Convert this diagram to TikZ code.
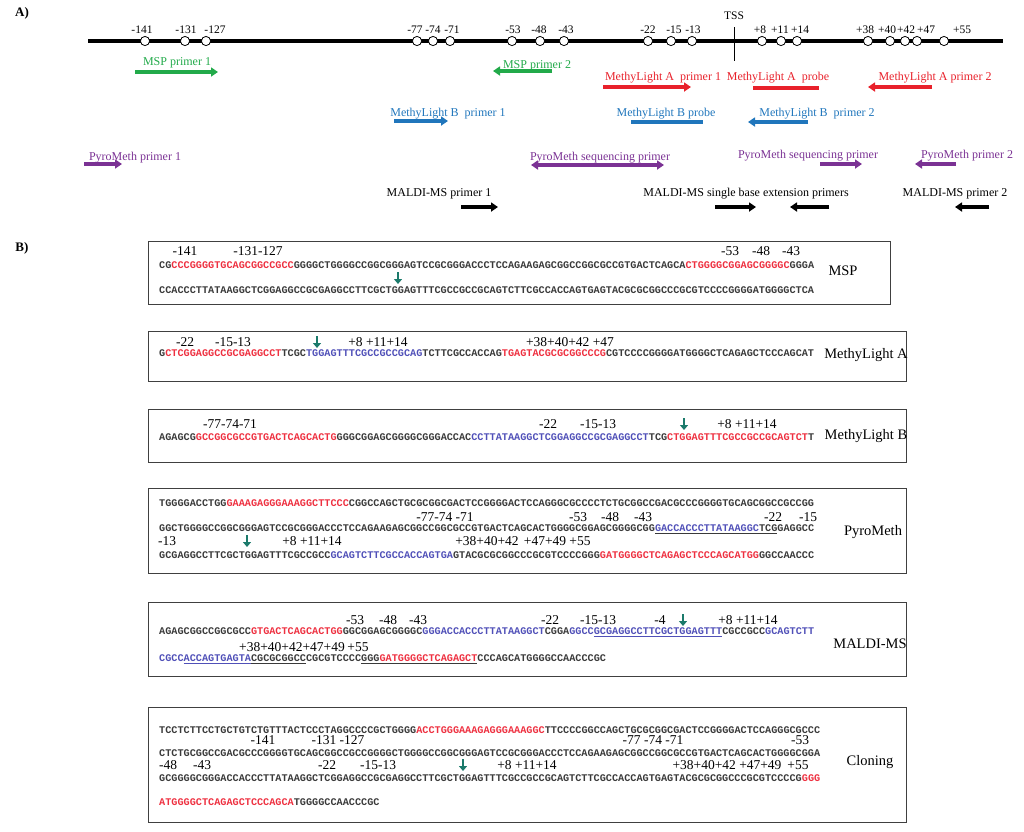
\documentclass[tikz,border=0pt]{standalone}
\usepackage{fontspec}
\setmainfont{Liberation Serif}
\newfontfamily\seqf{Liberation Mono}
\usetikzlibrary{arrows.meta}
\definecolor{cgreen}{HTML}{22AA4A}
\definecolor{cred}{HTML}{E8212B}
\definecolor{cblue}{HTML}{2076BC}
\definecolor{cpurp}{HTML}{7B3294}
\definecolor{sred}{HTML}{EE3040}
\definecolor{sblue}{HTML}{5050B8}
\definecolor{sgray}{HTML}{3A3A3A}
\definecolor{cteal}{HTML}{1B7A6B}
\newcommand\sR[1]{\textcolor{sred}{#1}}
\newcommand\sB[1]{\textcolor{sblue}{#1}}
\newcommand\sU[1]{\underline{#1}}
\begin{document}
\begin{tikzpicture}[x=1pt,y=-1pt,
  seq/.style={anchor=base west,inner sep=0,font=\seqf\bfseries\fontsize{10.2}{12}\selectfont,text=sgray},
  num/.style={anchor=base,inner sep=0,font=\fontsize{13.5}{15}\selectfont},
  lab/.style={anchor=base,inner sep=0,font=\fontsize{14.5}{17}\selectfont},
  hdr/.style={anchor=base,inner sep=0,font=\bfseries\fontsize{13}{15}\selectfont},
  tick/.style={anchor=base,inner sep=0,font=\fontsize{11.5}{13}\selectfont},
  ptxt/.style={anchor=base,inner sep=0,font=\fontsize{12}{14}\selectfont},
  seqbox/.style={draw=black!75,line width=0.9pt},
  parr/.style={line width=3.5pt,-{Triangle[length=7pt,width=9pt]}},
  darr/.style={line width=3.5pt,{Triangle[length=7pt,width=9pt]}-{Triangle[length=7pt,width=9pt]}},
  probe/.style={line width=3.5pt},
  dn/.style={cteal,line width=2.3pt,-{Triangle[length=5pt,width=8pt]}},
  site/.style={draw=black,fill=white,line width=0.8pt}]
\useasboundingbox (0,0) rectangle (1024,831);
% ---------------- Panel A ----------------
\node[hdr] (hA) at (22,16) {A)};
\coordinate (gL) at (88,41); \coordinate (gR) at (1003,41);
\draw[line width=3.2pt] (gL) -- (gR);
\coordinate (tssT) at (734,27); \coordinate (tssB) at (734,61);
\draw[line width=0.8pt] (tssT) -- (tssB);
\node[tick] (tss) at (734,19) {TSS};
\foreach \x in {145,185,206,417,433,450,512,540,564,648,671,692,762,781,797,868,890,905,917,944}
  \draw[site] (\x,41) circle (4.6);
\foreach \x/\t in {142/-141,186/-131,215/-127,415/-77,433/-74,452/-71,513/-53,539/-48,566/-43,648/-22,674/-15,693/-13,760/+8,780/+11,800/+14,865/+38,887/+40,906/+42,926/+47,962/+55}
  \node[tick] at (\x,33) {\t};
% MSP
\node[ptxt,text=cgreen] (msp1) at (177,65) {MSP primer 1};
\coordinate (msp1a) at (135,72); \coordinate (msp1b) at (218,72);
\draw[parr,cgreen] (msp1a) -- (msp1b);
\node[ptxt,text=cgreen] (msp2) at (537,68) {MSP primer 2};
\coordinate (msp2a) at (552,71); \coordinate (msp2b) at (493,71);
\draw[parr,cgreen] (msp2a) -- (msp2b);
% MethyLight A
\node[ptxt,text=cred] (mla1) at (663,80) {MethyLight A\ \ primer 1};
\coordinate (mla1a) at (603,87); \coordinate (mla1b) at (691,87);
\draw[parr,cred] (mla1a) -- (mla1b);
\node[ptxt,text=cred] (mlap) at (778,80) {MethyLight A\ \ probe};
\coordinate (mlapa) at (753,88); \coordinate (mlapb) at (819,88);
\draw[probe,cred] (mlapa) -- (mlapb);
\node[ptxt,text=cred] (mla2) at (935,80) {MethyLight A primer 2};
\coordinate (mla2a) at (932,87); \coordinate (mla2b) at (868,87);
\draw[parr,cred] (mla2a) -- (mla2b);
% MethyLight B
\node[ptxt,text=cblue] (mlb1) at (448,116) {MethyLight B\ \ primer 1};
\coordinate (mlb1a) at (394,121); \coordinate (mlb1b) at (448,121);
\draw[parr,cblue] (mlb1a) -- (mlb1b);
\node[ptxt,text=cblue] (mlbp) at (666,116) {MethyLight B probe};
\coordinate (mlbpa) at (631,122); \coordinate (mlbpb) at (703,122);
\draw[probe,cblue] (mlbpa) -- (mlbpb);
\node[ptxt,text=cblue] (mlb2) at (817,116) {MethyLight B\ \ primer 2};
\coordinate (mlb2a) at (808,122); \coordinate (mlb2b) at (748,122);
\draw[parr,cblue] (mlb2a) -- (mlb2b);
% PyroMeth
\node[ptxt,text=cpurp] (pm1) at (135,160) {PyroMeth primer 1};
\coordinate (pm1a) at (84,164); \coordinate (pm1b) at (122,164);
\draw[parr,cpurp] (pm1a) -- (pm1b);
\node[ptxt,text=cpurp] (pms1) at (600,160) {PyroMeth sequencing primer};
\coordinate (pms1a) at (531,165); \coordinate (pms1b) at (664,165);
\draw[darr,cpurp] (pms1a) -- (pms1b);
\node[ptxt,text=cpurp] (pms2) at (808,158) {PyroMeth sequencing primer};
\coordinate (pms2a) at (820,164); \coordinate (pms2b) at (862,164);
\draw[parr,cpurp] (pms2a) -- (pms2b);
\node[ptxt,text=cpurp] (pm2) at (967,158) {PyroMeth primer 2};
\coordinate (pm2a) at (956,164); \coordinate (pm2b) at (915,164);
\draw[parr,cpurp] (pm2a) -- (pm2b);
% MALDI
\node[ptxt] (md1) at (439,196) {MALDI-MS primer 1};
\coordinate (md1a) at (461,207); \coordinate (md1b) at (498,207);
\draw[parr] (md1a) -- (md1b);
\node[ptxt] (mds) at (746,196) {MALDI-MS single base extension primers};
\coordinate (mdsa) at (715,207); \coordinate (mdsb) at (756,207);
\draw[parr] (mdsa) -- (mdsb);
\coordinate (mdsc) at (829,207); \coordinate (mdsd) at (790,207);
\draw[parr] (mdsc) -- (mdsd);
\node[ptxt] (md2) at (955,196) {MALDI-MS primer 2};
\coordinate (md2a) at (989,207); \coordinate (md2b) at (955,207);
\draw[parr] (md2a) -- (md2b);
% ---------------- Panel B ----------------
\node[hdr] (hB) at (22,251) {B)};
% MSP box
\draw[seqbox] (148,241) rectangle (890,304);
\foreach \x/\t in {185/-141,258/-131-127,730/-53,761/-48,791/-43} \node[num] at (\x,255.5) {\t};
\node[seq] (msps1) at (159,268.5) {CG\sR{CCCGGGGTGCAGCGGCCGCC}GGGGCTGGGGCCGGCGGGAGTCCGCGGGACCCTCCAGAAGAGCGGCCGGCGCCGTGACTCAGCA\sR{CTGGGGCGGAGCGGGGC}GGGA};
\node[seq] (msps2) at (159,293.5) {CCACCCTTATAAGGCTCGGAGGCCGCGAGGCCTTCGCTGGAGTTTCGCCGCCGCAGTCTTCGCCACCAGTGAGTACGCGCGGCCCGCGTCCCCGGGGATGGGGCTCA};
\coordinate (mspt) at (398,272); \coordinate (mspb) at (398,284);
\draw[dn] (mspt) -- (mspb);
\node[lab] (mspl) at (843,275) {MSP};
% MethyLight A box
\draw[seqbox] (148,331) rectangle (906,381);
\foreach \x/\t in {185/-22,233/-15-13,378/+8 +11+14,570/+38+40+42 +47} \node[num] at (\x,346.5) {\t};
\node[seq] (mlas) at (159,356.5) {G\sR{CTCGGAGGCCGCGAGGCCT}TCGC\sB{TGGAGTTTCGCCGCCGCAG}TCTTCGCCACCAG\sR{TGAGTACGCGCGGCCCG}CGTCCCCGGGGATGGGGCTCAGAGCTCCCAGCAT};
\coordinate (mlat) at (317,336); \coordinate (mlab) at (317,348);
\draw[dn] (mlat) -- (mlab);
\node[lab] (mlal) at (866,358) {MethyLight A};
% MethyLight B box
\draw[seqbox] (148,409) rectangle (906,462);
\foreach \x/\t in {230/-77-74-71,548/-22,598/-15-13,747/+8 +11+14} \node[num] at (\x,428.5) {\t};
\node[seq] (mlbs) at (159,440.5) {AGAGCG\sR{GCCGGCGCCGTGACTCAGCACTG}GGGCGGAGCGGGGCGGGACCAC\sB{CCTTATAAGGCTCGGAGGCCGCGAGGCCT}TCG\sR{CTGGAGTTTCGCCGCCGCAGTCT}T};
\coordinate (mlbt) at (684,418); \coordinate (mlbb) at (684,430);
\draw[dn] (mlbt) -- (mlbb);
\node[lab] (mlbl) at (866,439) {MethyLight B};
% PyroMeth box
\draw[seqbox] (148,488) rectangle (906,573);
\node[seq] (pms1s) at (159,506.5) {TGGGGACCTGG\sR{GAAAGAGGGAAAGGCTTCCC}CGGCCAGCTGCGCGGCGACTCCGGGGACTCCAGGGCGCCCCTCTGCGGCCGACGCCCGGGGTGCAGCGGCCGCCGG};
\foreach \x/\t in {445/-77-74 -71,578/-53,610/-48,643/-43,773/-22,808/-15} \node[num] at (\x,521.5) {\t};
\node[seq] (pms2s) at (159,531.5) {GGCTGGGGCCGGCGGGAGTCCGCGGGACCCTCCAGAAGAGCGGCCGGCGCCGTGACTCAGCACTGGGGCGGAGCGGGGCGG\sU{\sB{GACCACCCTTATAAGGC}TCG}GAGGCC};
\foreach \x/\t in {167/-13,312/+8 +11+14,487/+38+40+42,545/+47+49,580/+55} \node[num] at (\x,545.5) {\t};
\node[seq] (pms3s) at (159,558.5) {GCGAGGCCTTCGCTGGAGTTTCGCCGCC\sB{GCAGTCTTCGCCACCAGTGA}GTACGCGCGGCCCGCGTCCCCGGG\sR{GATGGGGCTCAGAGCTCCCAGCATGG}GGCCAACCC};
\coordinate (pmt) at (247,535); \coordinate (pmb) at (247,547);
\draw[dn] (pmt) -- (pmb);
\node[lab] (pml) at (873,535) {PyroMeth};
% MALDI box
\draw[seqbox] (148,602) rectangle (906,676);
\foreach \x/\t in {355/-53,388/-48,418/-43,550/-22,598/-15-13,660/-4,748/+8 +11+14} \node[num] at (\x,624.5) {\t};
\node[seq] (mds1s) at (159,634.5) {AGAGCGGCCGGCGCC\sR{GTGACTCAGCACTGG}GGCGGAGCGGGGC\sB{GGGACCACCCTTATAAGGCT}CGGA\sB{GGCC\sU{GCGAGGCCTTCGCTGGAGTTT}}CGCCGCC\sB{GCAGTCTT}};
\foreach \x/\t in {292/+38+40+42+47+49,358/+55} \node[num] at (\x,651.5) {\t};
\node[seq] (mds2s) at (159,661.5) {\sB{CGCC\sU{ACCAGTGAGTA}}\sU{CGCGCGGCC}CGCGTCCCC\sU{GGG\sR{GATGGGGCTCAGAGCT}}CCCAGCATGGGGCCAACCCGC};
\coordinate (mdt) at (683,614); \coordinate (mdb) at (683,626);
\draw[dn] (mdt) -- (mdb);
\node[lab] (mdl) at (870,648) {MALDI-MS};
% Cloning box
\draw[seqbox] (148,707) rectangle (906,822);
\node[seq] (cl1) at (159,733.5) {TCCTCTTCCTGCTGTCTGTTTACTCCCTAGGCCCCGCTGGGG\sR{ACCTGGGAAAGAGGGAAAGGC}TTCCCCGGCCAGCTGCGCGGCGACTCCGGGGACTCCAGGGCGCCC};
\foreach \x/\t in {263/-141,338/-131 -127,653/-77 -74 -71,800/-53} \node[num] at (\x,744.5) {\t};
\node[seq] (cl2) at (159,756.5) {CTCTGCGGCCGACGCCCGGGGTGCAGCGGCCGCCGGGGCTGGGGCCGGCGGGAGTCCGCGGGACCCTCCAGAAGAGCGGCCGGCGCCGTGACTCAGCACTGGGGCGGA};
\foreach \x/\t in {168/-48,202/-43,327/-22,378/-15-13,527/+8 +11+14,727/+38+40+42 +47+49,798/+55} \node[num] at (\x,769.5) {\t};
\node[seq] (cl3) at (159,781.5) {GCGGGGCGGGACCACCCTTATAAGGCTCGGAGGCCGCGAGGCCTTCGCTGGAGTTTCGCCGCCGCAGTCTTCGCCACCAGTGAGTACGCGCGGCCCGCGTCCCCG\sR{GGG}};
\node[seq] (cl4) at (159,805.5) {\sR{ATGGGGCTCAGAGCTCCCAGCA}TGGGGCCAACCCGC};
\coordinate (clt) at (463,759); \coordinate (clb) at (463,771);
\draw[dn] (clt) -- (clb);
\node[lab] (cll) at (870,765) {Cloning};
\end{tikzpicture}
\end{document}
